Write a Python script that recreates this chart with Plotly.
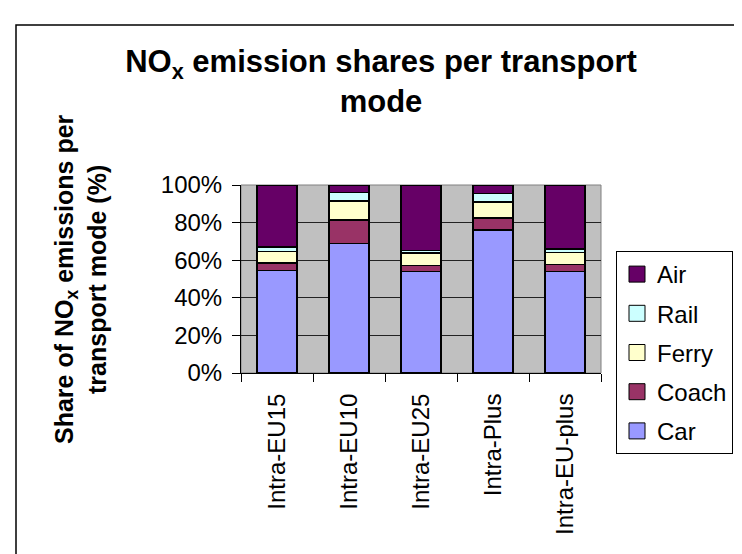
import plotly.graph_objects as go

categories = ["Intra-EU15", "Intra-EU10", "Intra-EU25", "Intra-Plus", "Intra-EU-plus"]
car = [54.6, 68.8, 54.1, 76.1, 54.1]
coach = [3.9, 12.6, 3.2, 6.3, 3.5]
ferry = [6.2, 10.2, 6.5, 8.6, 6.6]
rail = [2.2, 4.5, 1.3, 4.4, 1.8]
air = [33.1, 3.9, 34.9, 4.6, 34.0]

series = [("Car", car, "#9999FF"), ("Coach", coach, "#993366"),
          ("Ferry", ferry, "#FFFFCC"), ("Rail", rail, "#CCFFFF"),
          ("Air", air, "#660066")]

FONT = "Liberation Sans, Arial, sans-serif"
fig = go.Figure()
for name, vals, col in series:
    fig.add_trace(go.Bar(x=categories, y=vals, name=name, showlegend=False,
                         marker=dict(color=col, line=dict(color="black", width=1.5))))
for name, vals, col in reversed(series):
    fig.add_trace(go.Scatter(x=[None], y=[None], mode="markers", name=name,
                             legendgroup=name,
                             marker=dict(symbol="square", size=16, color=col,
                                         line=dict(color="black", width=1))))

W, H = 742, 554
L, R, T, B = 233, 593, 177, 365
pw, ph = R - L, B - T

def px(x):
    return (x - L) / pw

def py(y):
    return (B - y) / ph

fig.update_layout(
    width=W, height=H,
    margin=dict(l=L, r=W - R, t=T, b=H - B),
    barmode="stack", bargap=0.44,
    paper_bgcolor="white", plot_bgcolor="#C0C0C0",
    font=dict(family=FONT, size=24, color="black"),
    title=dict(text="<b>NO<sub>x</sub> emission shares per transport<br>mode</b>",
               x=373 / W, xanchor="center", y=1 - 64 / H, yanchor="middle",
               font=dict(family=FONT, size=31, color="black")),
    legend=dict(x=px(608), xanchor="left", y=py(243), yanchor="top",
                traceorder="grouped", bgcolor="white", bordercolor="black",
                borderwidth=1, font=dict(size=24), tracegroupgap=5,
                maxheight=320, itemclick=False),
    xaxis=dict(type="category", tickangle=-90, tickson="boundaries",
               ticks="outside", ticklen=8, tickcolor="black",
               showline=True, linecolor="black", linewidth=1,
               showgrid=False, tickfont=dict(size=24), ticklabelstandoff=10),
    yaxis=dict(range=[0, 100], dtick=20, ticksuffix="%", ticks="outside",
               ticklen=8, tickcolor="black", showline=True, linecolor="black",
               linewidth=1, showgrid=True, gridcolor="#222222", gridwidth=1,
               zeroline=False, tickfont=dict(size=24), ticklabelstandoff=5),
    annotations=[dict(text="<b>Share of NO<sub>x</sub> emissions per<br>transport mode (%)</b>",
                      xref="paper", yref="paper", x=px(72), y=py(271),
                      xanchor="center", yanchor="middle", textangle=-90,
                      showarrow=False, font=dict(family=FONT, size=25, color="black"))],
    shapes=[
        dict(type="rect", xref="paper", yref="paper", x0=0, x1=1, y0=0, y1=1,
             line=dict(color="#808080", width=1), layer="below"),
        dict(type="rect", xref="paper", yref="paper", x0=px(8), x1=px(736),
             y0=py(560), y1=py(17), line=dict(color="black", width=1.5)),
    ],
)

fig.write_html("out.html")
